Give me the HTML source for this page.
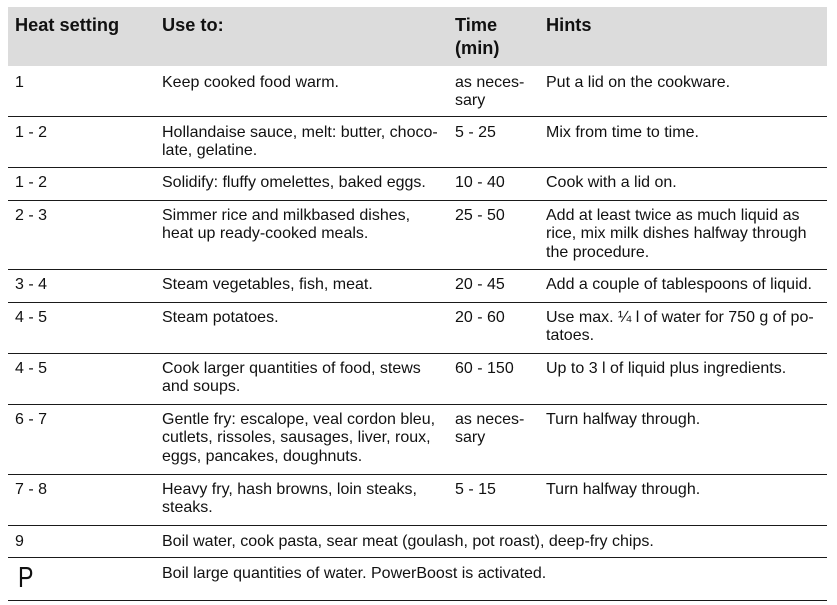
<!DOCTYPE html>
<html>
<head>
<meta charset="utf-8">
<style>
  html, body { margin:0; padding:0; background:#fff; }
  body { width:837px; height:605px; position:relative; overflow:hidden;
         font-family:"Liberation Sans", Arial, sans-serif; color:#111; }
  .hdr { position:absolute; left:8px; top:7px; width:819px; height:59px; background:#dcdcdc; }
  .h { position:absolute; font-weight:bold; font-size:18.2px; line-height:23px; top:13.5px; color:#111; white-space:nowrap; }
  .t { position:absolute; font-size:16px; line-height:18.3px; white-space:nowrap; }
  .ln { position:absolute; left:8px; width:819px; height:1.4px; background:#1a1a1a; }
  .c1 { left:15px; } .c2 { left:162px; } .c3 { left:455px; } .c4 { left:546px; }
</style>
</head>
<body>
<div class="hdr"></div>
<div class="h c1">Heat setting</div>
<div class="h c2">Use to:</div>
<div class="h c3">Time<br>(min)</div>
<div class="h c4">Hints</div>

<div class="t c1" style="top:73.5px">1</div>
<div class="t c2" style="top:73.5px">Keep cooked food warm.</div>
<div class="t c3" style="top:73.5px">as neces-<br>sary</div>
<div class="t c4" style="top:73.5px">Put a lid on the cookware.</div>
<div class="ln" style="top:116px"></div>

<div class="t c1" style="top:124px">1 - 2</div>
<div class="t c2" style="top:124px">Hollandaise sauce, melt: butter, choco-<br>late, gelatine.</div>
<div class="t c3" style="top:124px">5 - 25</div>
<div class="t c4" style="top:124px">Mix from time to time.</div>
<div class="ln" style="top:166.5px"></div>

<div class="t c1" style="top:174px">1 - 2</div>
<div class="t c2" style="top:174px">Solidify: fluffy omelettes, baked eggs.</div>
<div class="t c3" style="top:174px">10 - 40</div>
<div class="t c4" style="top:174px">Cook with a lid on.</div>
<div class="ln" style="top:199.5px"></div>

<div class="t c1" style="top:207px">2 - 3</div>
<div class="t c2" style="top:207px">Simmer rice and milkbased dishes,<br>heat up ready-cooked meals.</div>
<div class="t c3" style="top:207px">25 - 50</div>
<div class="t c4" style="top:207px">Add at least twice as much liquid as<br>rice, mix milk dishes halfway through<br>the procedure.</div>
<div class="ln" style="top:269px"></div>

<div class="t c1" style="top:276px">3 - 4</div>
<div class="t c2" style="top:276px">Steam vegetables, fish, meat.</div>
<div class="t c3" style="top:276px">20 - 45</div>
<div class="t c4" style="top:276px">Add a couple of tablespoons of liquid.</div>
<div class="ln" style="top:301.5px"></div>

<div class="t c1" style="top:309px">4 - 5</div>
<div class="t c2" style="top:309px">Steam potatoes.</div>
<div class="t c3" style="top:309px">20 - 60</div>
<div class="t c4" style="top:309px">Use max. ¼ l of water for 750 g of po-<br>tatoes.</div>
<div class="ln" style="top:352.5px"></div>

<div class="t c1" style="top:360px">4 - 5</div>
<div class="t c2" style="top:360px">Cook larger quantities of food, stews<br>and soups.</div>
<div class="t c3" style="top:360px">60 - 150</div>
<div class="t c4" style="top:360px">Up to 3 l of liquid plus ingredients.</div>
<div class="ln" style="top:403.5px"></div>

<div class="t c1" style="top:411px">6 - 7</div>
<div class="t c2" style="top:411px">Gentle fry: escalope, veal cordon bleu,<br>cutlets, rissoles, sausages, liver, roux,<br>eggs, pancakes, doughnuts.</div>
<div class="t c3" style="top:411px">as neces-<br>sary</div>
<div class="t c4" style="top:411px">Turn halfway through.</div>
<div class="ln" style="top:473.5px"></div>

<div class="t c1" style="top:481px">7 - 8</div>
<div class="t c2" style="top:481px">Heavy fry, hash browns, loin steaks,<br>steaks.</div>
<div class="t c3" style="top:481px">5 - 15</div>
<div class="t c4" style="top:481px">Turn halfway through.</div>
<div class="ln" style="top:525px"></div>

<div class="t c1" style="top:532.5px">9</div>
<div class="t c2" style="top:532.5px">Boil water, cook pasta, sear meat (goulash, pot roast), deep-fry chips.</div>
<div class="ln" style="top:556.5px"></div>

<div style="position:absolute; left:18px; top:561px; font-size:29px; line-height:34px; font-family:'Liberation Sans', sans-serif; color:#111; transform:scaleX(0.8); transform-origin:left top;">P</div>
<div class="t c2" style="top:564.5px">Boil large quantities of water. PowerBoost is activated.</div>
<div class="ln" style="top:600px"></div>
</body>
</html>
